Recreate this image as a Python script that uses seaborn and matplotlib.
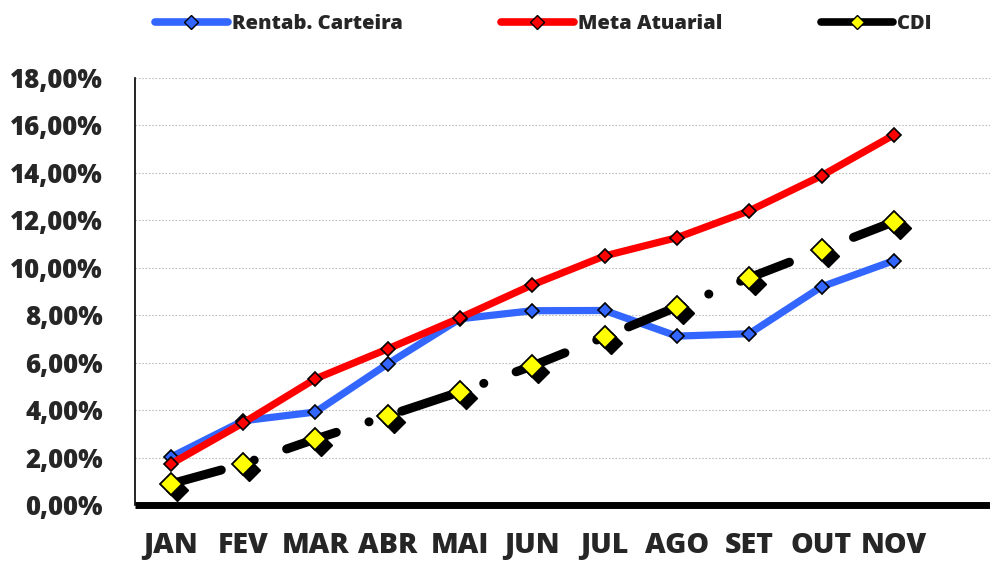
import matplotlib.pyplot as plt
import matplotlib.transforms as mtransforms
from matplotlib.lines import Line2D
from matplotlib.ticker import FuncFormatter, FixedLocator
import numpy as np
import seaborn as sns

# dados (%)
meses = ["JAN", "FEV", "MAR", "ABR", "MAI", "JUN", "JUL", "AGO", "SET", "OUT", "NOV"]
rentab = [2.02, 3.55, 3.92, 5.95, 7.85, 8.19, 8.20, 7.12, 7.22, 9.20, 10.30]
meta = [1.73, 3.46, 5.32, 6.58, 7.89, 9.28, 10.50, 11.27, 12.40, 13.88, 15.60]
cdi = [0.89, 1.73, 2.78, 3.76, 4.77, 5.86, 7.09, 8.35, 9.58, 10.76, 11.94]

sns.set_style("white")
plt.rcParams['font.family'] = ['Open Sans', 'DejaVu Sans']
plt.rcParams['font.weight'] = 800

fig = plt.figure(figsize=(9.9, 5.62), dpi=100)
ax = fig.add_axes([0.136, 0.1014, 0.864, 0.7598])

x = np.arange(len(meses))
azul = "#3366FF"
verm = "#FF0000"

sns.lineplot(x=x, y=rentab, ax=ax, color=azul, linewidth=5.2, marker="D",
             markersize=7.5, markerfacecolor=azul, markeredgecolor="black",
             markeredgewidth=1.2, zorder=3)
sns.lineplot(x=x, y=meta, ax=ax, color=verm, linewidth=5.2, marker="D",
             markersize=7.5, markerfacecolor=verm, markeredgecolor="black",
             markeredgewidth=1.2, zorder=4)

# CDI: traco-ponto grosso + losangos amarelos com sombra
sns.lineplot(x=x, y=cdi, ax=ax, color="black", linewidth=6.5, zorder=5)
cdi_line = ax.lines[-1]
cdi_line.set_dashes([5.8, 3.8, 0.01, 3.8])
cdi_line.set_dash_capstyle("round")
sombra = mtransforms.offset_copy(ax.transData, fig=fig, x=4.3, y=-4.3, units="points")
ax.plot(x, cdi, linestyle="none", marker="D", markersize=11, color="black",
        transform=sombra, zorder=6)
ax.plot(x, cdi, linestyle="none", marker="D", markersize=11,
        markerfacecolor="#FFFF00", markeredgecolor="black", markeredgewidth=1.3,
        zorder=7)

ax.set_xlim(-0.5, 11.33)
ax.set_ylim(0, 18)
ax.set_xlabel("")
ax.set_ylabel("")

ax.set_yticks(np.arange(0, 19, 2))
ax.yaxis.set_major_formatter(FuncFormatter(lambda v, p: f"{v:.2f}".replace(".", ",") + "%"))
ax.grid(axis="y", color="#BFBFBF", linestyle=(0, (1.5, 1.5)), linewidth=0.8)
ax.set_axisbelow(True)

ax.set_xticks(x)
ax.set_xticklabels(meses)
ax.xaxis.set_minor_locator(FixedLocator(np.arange(-0.5, 11, 1)))
ax.tick_params(axis="x", which="major", length=0, pad=19, labelsize=20.5)
ax.tick_params(axis="x", which="minor", length=6, width=3.5, direction="out", color="black")
ax.tick_params(axis="y", length=5, width=0.8, direction="out", color="black",
               pad=18, labelsize=18.5)

for s in ["top", "right"]:
    ax.spines[s].set_visible(False)
ax.spines["left"].set_color("black")
ax.spines["left"].set_linewidth(1.2)
ax.spines["bottom"].set_color("black")
ax.spines["bottom"].set_linewidth(5)
ax.spines["bottom"].set_capstyle("butt")

handles = [
    Line2D([], [], color=azul, linewidth=5.5, marker="D", markersize=7,
           markerfacecolor=azul, markeredgecolor="black", solid_capstyle="round"),
    Line2D([], [], color=verm, linewidth=5.5, marker="D", markersize=7,
           markerfacecolor=verm, markeredgecolor="black", solid_capstyle="round"),
    Line2D([], [], color="black", linewidth=5.5, marker="D", markersize=7,
           markerfacecolor="#FFFF00", markeredgecolor="black", solid_capstyle="round"),
]
fig.legend(handles, ["Rentab. Carteira", "Meta Atuarial", "CDI"], loc="center",
           bbox_to_anchor=(0.549, 0.958), ncol=3, frameon=False,
           prop={"weight": 800, "size": 14.5}, handlelength=3.6,
           columnspacing=4.9, handletextpad=0.2)

fig.savefig("out.png", dpi=100)
